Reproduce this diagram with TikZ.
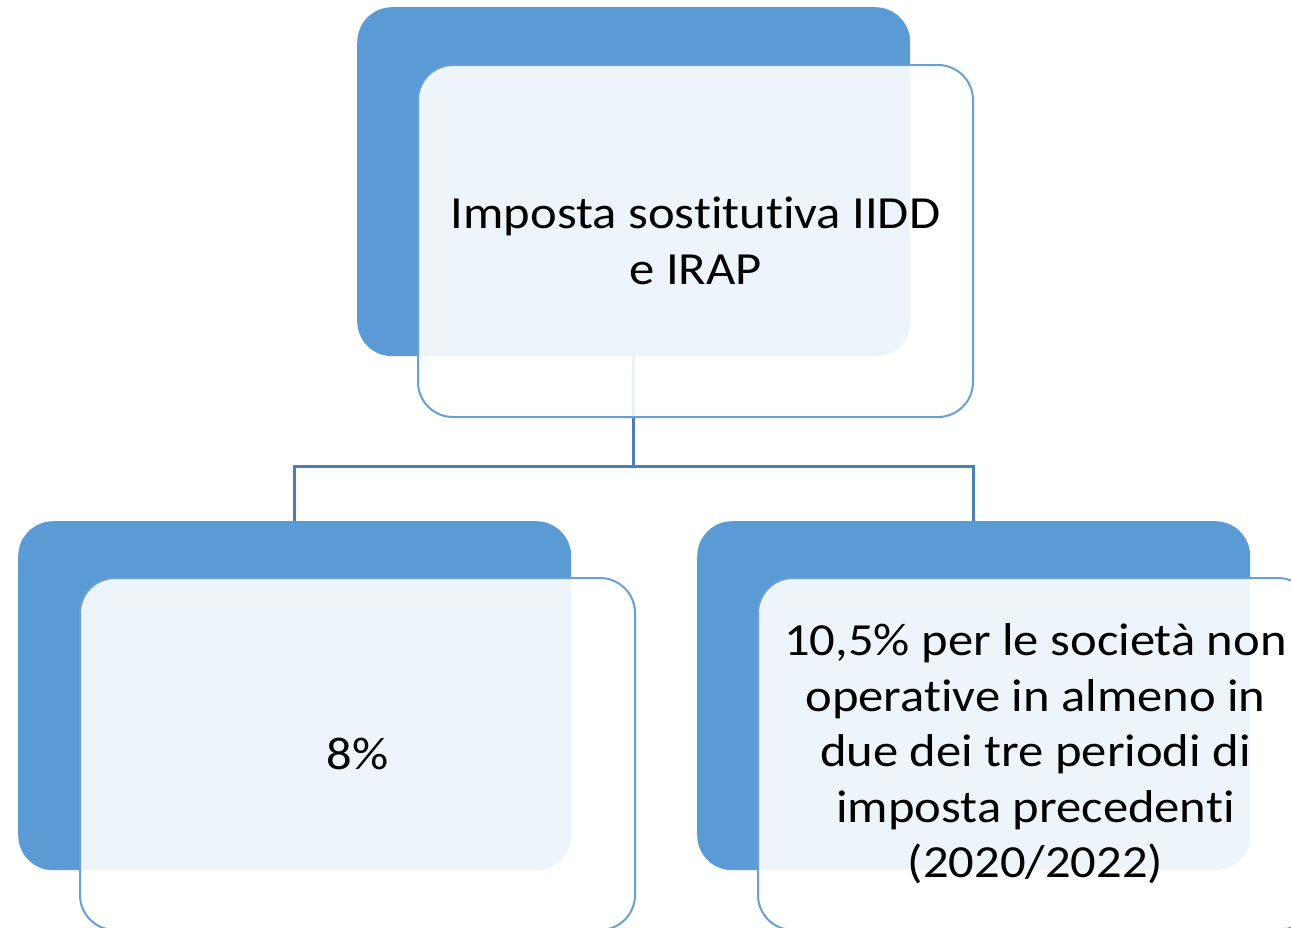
\documentclass[tikz,border=0pt]{standalone}
\usepackage{fontspec}
\setmainfont[FakeStretch=1.1, Ligatures={NoCommon}]{Carlito}
\definecolor{backblue}{HTML}{5B9BD5}
\definecolor{edgeblue}{HTML}{6A9FD6}
\definecolor{linkblue}{HTML}{4A7EB5}
\begin{document}
\begin{tikzpicture}[x=1pt,y=-1pt,
  backbox/.style={fill=backblue, draw=none, rounded corners=35pt,
    minimum width=553pt, minimum height=349pt, inner sep=0pt, anchor=north west},
  frontbox/.style={fill=white, fill opacity=0.9, text opacity=1, draw=edgeblue,
    line width=2pt, rounded corners=35pt, minimum width=555pt, minimum height=352pt,
    inner sep=0pt, anchor=north west, align=center,
    font=\fontsize{46}{55.5}\selectfont},
  link/.style={draw=linkblue, line width=2.5pt}]
\useasboundingbox (0,0) rectangle (1291,927);
\clip (0,0) rectangle (1291,927);
\fill[white] (0,0) rectangle (1291,927);
% back boxes
\node[backbox] (tb) at (357,7) {};
\node[backbox] (bl) at (18,521) {};
\node[backbox] (br) at (697,521) {};
% connectors
\draw[link] (tb.south) -- ++(0,110) -| (bl.north);
\draw[link] (tb.south) -- ++(0,110) -| (br.north);
% front boxes
\node[frontbox] (tf) at (417,64) {Imposta sostitutiva IIDD\\e IRAP};
\node[frontbox] (lf) at (79,577) {8\%};
\node[frontbox] (rf) at (757,577) {10,5\% per le società non\\operative in almeno in\\due dei tre periodi di\\imposta precedenti\\(2020/2022)};
\end{tikzpicture}
\end{document}
